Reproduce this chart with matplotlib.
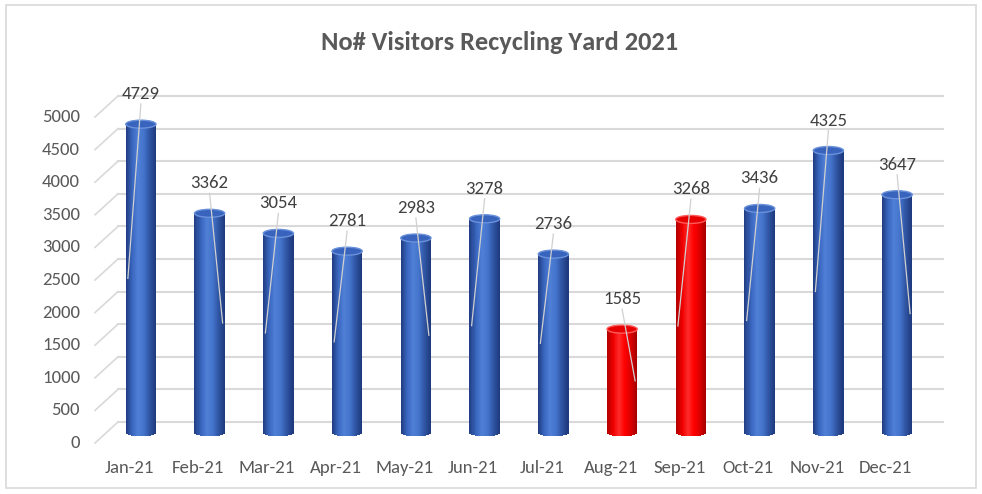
import matplotlib
matplotlib.use("Agg")
import matplotlib.pyplot as plt
import matplotlib.transforms as mtransforms
from matplotlib.colors import LinearSegmentedColormap
from matplotlib.patches import Ellipse, Rectangle
import numpy as np

months = ["Jan-21", "Feb-21", "Mar-21", "Apr-21", "May-21", "Jun-21",
          "Jul-21", "Aug-21", "Sep-21", "Oct-21", "Nov-21", "Dec-21"]
visitors = [4729, 3362, 3054, 2781, 2983, 3278, 2736, 1585, 3268, 3436, 4325, 3647]
highlight = ["Aug-21", "Sep-21"]
y_ticks = list(range(0, 5001, 500))
title = "No# Visitors Recycling Yard 2021"

# which way each label's leader line leans inside the bar
leader_lean = [-1, 1, -1, -1, 1, -1, -1, 1, -1, -1, -1, 1]

plt.rcParams['font.family'] = ['Carlito', 'DejaVu Sans']
TXT = '#595959'
GRID = '#d9d9d9'

W, H, DPI = 982, 494, 100
fig = plt.figure(figsize=(W / DPI, H / DPI), dpi=DPI)

# back wall of the 3d plot: x 118..943 px, y 96..422 px (from top)
ax = fig.add_axes([118 / W, (H - 422) / H, 825 / W, 326 / H])
ax.set_xlim(-0.5, len(months) - 0.5)
ax.set_ylim(0, 5000)
ax.axis('off')

# figure border
fig.patches.append(Rectangle((6 / W, 6 / H), 970 / W, 483 / H, transform=fig.transFigure,
                             fill=False, edgecolor=GRID, lw=1.2))

# depth offsets in pixels: mid plane (bars) and front plane (labels)
def shift(dx, dy):
    return ax.transData + mtransforms.ScaledTranslation(dx / DPI, dy / DPI, fig.dpi_scale_trans)

mid = shift(-11.5, -10.5)
px = ax.transData.transform((1, 1)) - ax.transData.transform((0, 0))
sx, sy = px[0], px[1]

# gridlines on the back wall with the diagonal going to the front
for v in y_ticks:
    ax.plot([-0.5, len(months) - 0.5], [v, v], color=GRID, lw=1.5, clip_on=False, zorder=1)
    ax.plot([-0.5 - 23 / sx, -0.5], [v - 21 / sy, v], color=GRID, lw=1.2, clip_on=False, zorder=1)
    ax.text(-0.5, v, str(v), transform=shift(-38, -21), ha='right', va='center',
            fontsize=13.5, color=TXT)

for i, m in enumerate(months):
    ax.text(i, 0, m, transform=shift(-23, -46), ha='center', va='center',
            fontsize=13.5, color=TXT)

blue = LinearSegmentedColormap.from_list('b', ['#223f85', '#3a66bf', '#4f80d6', '#4373cb', '#2f54a2', '#1f3b80'])
red = LinearSegmentedColormap.from_list('r', ['#b40000', '#f00000', '#ff2a2a', '#ff0000', '#dc0000', '#a80000'])

bw = 0.44
cap = 8 / sy          # ellipse height in data units
n = 30
for i, (m, v) in enumerate(zip(months, visitors)):
    cmap = red if m in highlight else blue
    top_col = '#e60000' if m in highlight else '#3964bd'
    rim_col = '#ff5a5a' if m in highlight else '#6a91da'
    edges = np.linspace(-bw / 2, bw / 2, n + 1)
    for k in range(n):
        u = (edges[k] + edges[k + 1]) / 2
        dip = cap / 2 * np.sqrt(max(0, 1 - (2 * u / bw) ** 2))
        ax.bar(i + u, v + dip, width=bw / n * 1.05, bottom=-dip, color=cmap(k / (n - 1)),
               transform=mid, clip_on=False, zorder=3, linewidth=0)
    ax.add_patch(Ellipse((i, v), bw, cap, facecolor=top_col, edgecolor=rim_col, lw=1,
                         transform=mid, clip_on=False, zorder=4))
    # leader line and value label
    ax.plot([i, i + leader_lean[i] * 13 / sx], [v + 20 / sy, v / 2], color='#d0d0d0', lw=0.9,
            transform=mid, clip_on=False, zorder=5)
    ax.text(i, v + 30 / sy, str(v), transform=mid, ha='center', va='center',
            fontsize=13.5, color='#404040', zorder=6)

fig.text(500 / W, 1 - 43 / H, title, ha='center', va='center', fontsize=19,
         fontweight='bold', color=TXT)

fig.savefig('out.png', dpi=DPI, facecolor='white')
